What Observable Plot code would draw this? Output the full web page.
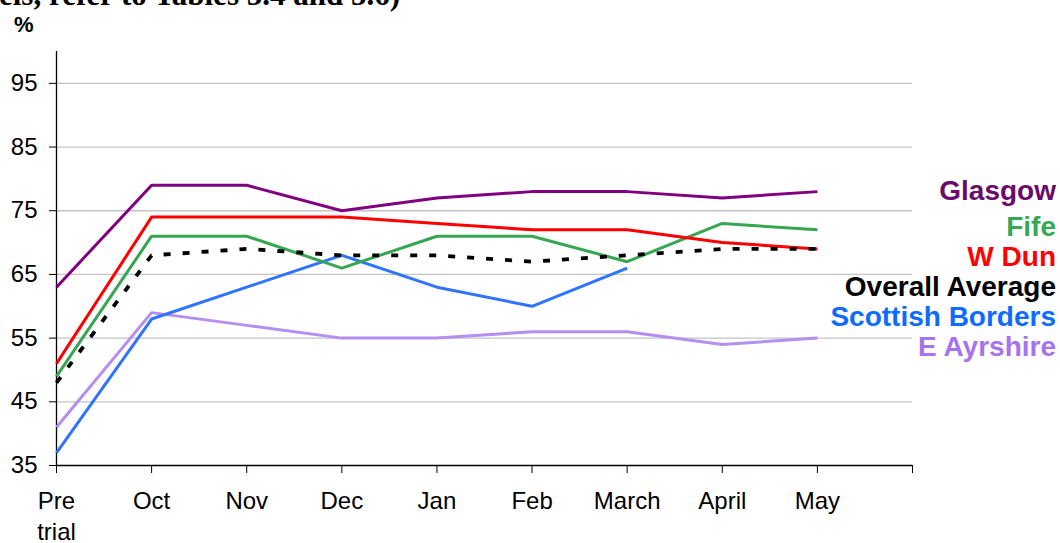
<!DOCTYPE html>
<html>
<head>
<meta charset="utf-8">
<script src="https://cdn.jsdelivr.net/npm/d3@7"></script>
<script src="https://cdn.jsdelivr.net/npm/@observablehq/plot@0.6"></script>
<style>
  html, body { margin: 0; padding: 0; background: #fff; overflow: hidden; }
  #wrap { position: relative; width: 1060px; height: 543px; font-family: "Liberation Sans", Arial, sans-serif; }
  #title { position: absolute; left: -1px; top: -23px; font-family: "Liberation Serif", "Times New Roman", serif; font-weight: bold; font-size: 31px; white-space: nowrap; color: #000; }
  #unit { position: absolute; left: 14px; top: 12px; font-weight: bold; font-size: 22px; color: #000; }
  #legend { position: absolute; right: 4px; top: 176px; text-align: right; font-weight: bold; font-size: 28px; line-height: 30px; white-space: nowrap; }
  #legend div:first-child { margin-bottom: 6px; }
  #chart { position: absolute; left: 0; top: 0; }
</style>
</head>
<body>
<div id="wrap">
  <div id="chart"></div>
  <div id="title">els, refer to Tables 5.4 and 5.6)</div>
  <div id="unit">%</div>
  <div id="legend"></div>
</div>
<script>
// Category labels (x axis)
const months = ["Pre\ntrial", "Oct", "Nov", "Dec", "Jan", "Feb", "March", "April", "May"];
// Series values (%)
const glasgow = [63, 79, 79, 75, 77, 78, 78, 77, 78];
const fife = [49, 71, 71, 66, 71, 71, 67, 73, 72];
const wDun = [51, 74, 74, 74, 73, 72, 72, 70, 69];
const overallAverage = [48, 68, 69, 68, 68, 67, 68, 69, 69];
const scottishBorders = [37, 58, 63, 68, 63, 60, 66];
const eAyrshire = [41, 59, 57, 55, 55, 56, 56, 54, 55];
// Y tick values
const yTicks = [35, 45, 55, 65, 75, 85, 95];

const series = [
  {name: "E Ayrshire", values: eAyrshire, color: "#b48ef0", label: "#a574ee", dash: null},
  {name: "Scottish Borders", values: scottishBorders, color: "#2f74ff", label: "#0c6cff", dash: null},
  {name: "Fife", values: fife, color: "#37a653", label: "#35a853", dash: null},
  {name: "W Dun", values: wDun, color: "#ff0000", label: "#ff0000", dash: null},
  {name: "Glasgow", values: glasgow, color: "#800080", label: "#6a0a6a", dash: null},
  {name: "Overall Average", values: overallAverage, color: "#000000", label: "#000000", dash: "7,12"}
];
const legendOrder = ["Glasgow", "Fife", "W Dun", "Overall Average", "Scottish Borders", "E Ayrshire"];

const rows = series.flatMap(s => s.values.map((v, i) => ({series: s.name, i, value: v})));

const marks = [
  Plot.ruleY(yTicks.slice(1), {stroke: "#c4c4c4", strokeWidth: 1.3}),
  Plot.axisY({ticks: yTicks, tickSize: 7, tickPadding: 12, fontSize: 24, label: null, stroke: "#000"}),
  Plot.axisX({ticks: d3.range(0, 10), tickSize: 8, tickPadding: 14, fontSize: 24, label: null,
    tickFormat: i => months[i] ?? "", lineHeight: 1.29}),
  Plot.ruleX([0], {y1: 35, y2: 100, stroke: "#000", strokeWidth: 1.3}),
  Plot.ruleY([35], {x1: 0, x2: 9, stroke: "#000", strokeWidth: 1.3})
];
for (const s of series) {
  marks.push(Plot.line(rows.filter(r => r.series === s.name), {
    x: "i", y: "value", stroke: s.color,
    strokeWidth: s.dash ? 3.8 : 3,
    strokeDasharray: s.dash ?? undefined,
    strokeLinecap: "butt"
  }));
}

const chart = Plot.plot({
  width: 1060,
  height: 543,
  marginLeft: 56,
  marginRight: 148,
  marginTop: 51,
  marginBottom: 78,
  style: {fontFamily: "'Liberation Sans', Arial, sans-serif", color: "#000", background: "#fff"},
  x: {type: "linear", domain: [0, 9]},
  y: {domain: [35, 100]},
  marks
});
document.getElementById("chart").appendChild(chart);

const legend = document.getElementById("legend");
for (const name of legendOrder) {
  const s = series.find(d => d.name === name);
  const div = document.createElement("div");
  div.textContent = name;
  div.style.color = s.label;
  legend.appendChild(div);
}
</script>
</body>
</html>
